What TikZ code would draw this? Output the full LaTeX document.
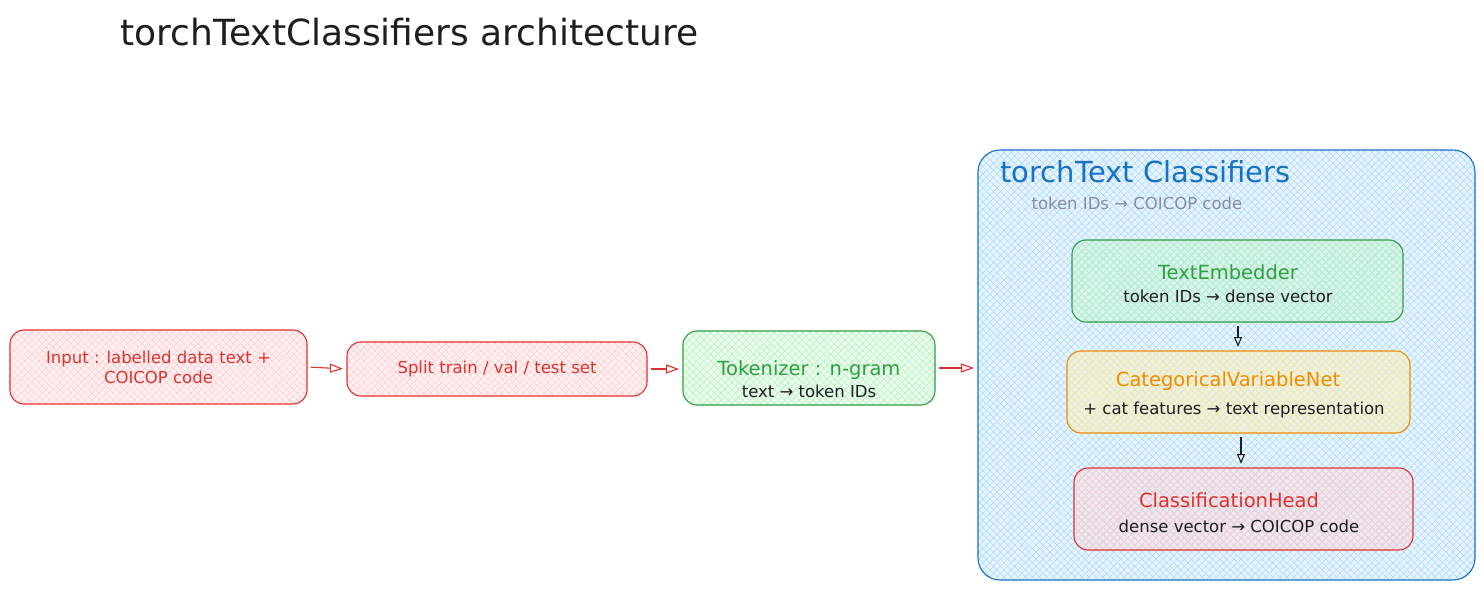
\documentclass[tikz,border=0pt]{standalone}
\usepackage{fontspec}
\setmainfont{DejaVu Sans}
\usetikzlibrary{arrows.meta,patterns.meta}
\definecolor{cred}{HTML}{E03131}
\definecolor{cgreen}{HTML}{2F9E44}
\definecolor{corange}{HTML}{F08C00}
\definecolor{cblue}{HTML}{1971C2}
\definecolor{fred}{HTML}{FFC9C9}
\definecolor{fgreen}{HTML}{B2F2BB}
\definecolor{fyellow}{HTML}{FFEC99}
\definecolor{fblue}{HTML}{A5D8FF}
\definecolor{cgray}{HTML}{868E96}
\definecolor{cdark}{HTML}{1E1E1E}
\newcommand\ra{→}
\newcommand\myTfont{\fontsize{19.5}{23}\selectfont}
\newcommand\myBfont{\fontsize{16.5}{20}\selectfont}
\tikzset{
  hatchbox/.style n args={2}{draw=#1, line width=1.1pt, rounded corners=14pt,
    inner sep=0pt, outer sep=0pt, align=center, font=\myBfont,
    preaction={fill=#2, fill opacity=0.25},
    preaction={pattern={Lines[angle=45,distance=5pt,line width=0.5pt]}, pattern color=#2},
    preaction={pattern={Lines[angle=-45,distance=5pt,line width=0.5pt]}, pattern color=#2}},
  ttl/.style={font=\myTfont, inner sep=0pt, anchor=base},
  sub/.style={font=\myBfont, inner sep=0pt, anchor=base, text=cdark},
  flow/.style={draw=#1, line width=1.1pt, -{Triangle[open,length=13pt,width=9pt]},
    shorten <=4pt, shorten >=4pt},
}
\begin{document}
\begin{tikzpicture}[x=1pt,y=-1pt]
\useasboundingbox (0,0) rectangle (1484,591);
\fill[white] (0,0) rectangle (1484,591);

\node[font=\fontsize{36}{40}\selectfont, text=cdark, anchor=west] (title) at (117,32) {torchTextClassifiers architecture};

% container
\node[hatchbox={cblue}{fblue}, minimum width=497pt, minimum height=430pt, rounded corners=22pt] (cont) at (1226.5,365) {};
\node[font=\fontsize{29}{33}\selectfont, text=cblue, anchor=west] (ctitle) at (997,172) {torchText Classifiers};
\node[font=\myBfont, text=cgray, anchor=west] (csub) at (1028,203) {token IDs \ra{} COICOP code};

% pipeline
\node[hatchbox={cred}{fred}, minimum width=297pt, minimum height=74pt, text=cred] (input) at (158.5,367) {Input : labelled data text +\\COICOP code};
\node[hatchbox={cred}{fred}, minimum width=300pt, minimum height=54pt, text=cred] (split) at (497,369) {Split train / val / test set};
\node[hatchbox={cgreen}{fgreen}, minimum width=252pt, minimum height=74pt] (tok) at (809,368) {};
\node[ttl, text=cgreen] (tokT) at (809,375) {Tokenizer : n-gram};
\node[sub] (tokS) at (809,397) {text \ra{} token IDs};

% inner blocks
\node[hatchbox={cgreen}{fgreen}, minimum width=331pt, minimum height=82pt] (emb) at (1237.5,281) {};
\node[ttl, text=cgreen] (embT) at (1228,279) {TextEmbedder};
\node[sub] (embS) at (1228,302) {token IDs \ra{} dense vector};

\node[hatchbox={corange}{fyellow}, minimum width=343pt, minimum height=82pt] (cat) at (1238.5,392) {};
\node[ttl, text=corange] (catT) at (1228,386) {CategoricalVariableNet};
\node[sub] (catS) at (1234,414) {+ cat features \ra{} text representation};

\node[hatchbox={cred}{fred}, minimum width=339pt, minimum height=82pt] (head) at (1243.5,509) {};
\node[ttl, text=cred] (headT) at (1229,507) {ClassificationHead};
\node[sub] (headS) at (1239,532) {dense vector \ra{} COICOP code};

% connectors
\draw[flow=cred] (input.east) -- (split.west);
\draw[flow=cred] (split.east) -- (split.east -| tok.west);
\draw[flow=cred] (tok.east) -- (tok.east -| cont.west);
\draw[flow=cdark, -{Triangle[open,length=10pt,width=8pt]}] (emb.south -| 1238,0) -- (cat.north -| 1238,0);
\draw[flow=cdark, -{Triangle[open,length=10pt,width=8pt]}] (cat.south -| 1241,0) -- (head.north -| 1241,0);
\end{tikzpicture}
\end{document}
